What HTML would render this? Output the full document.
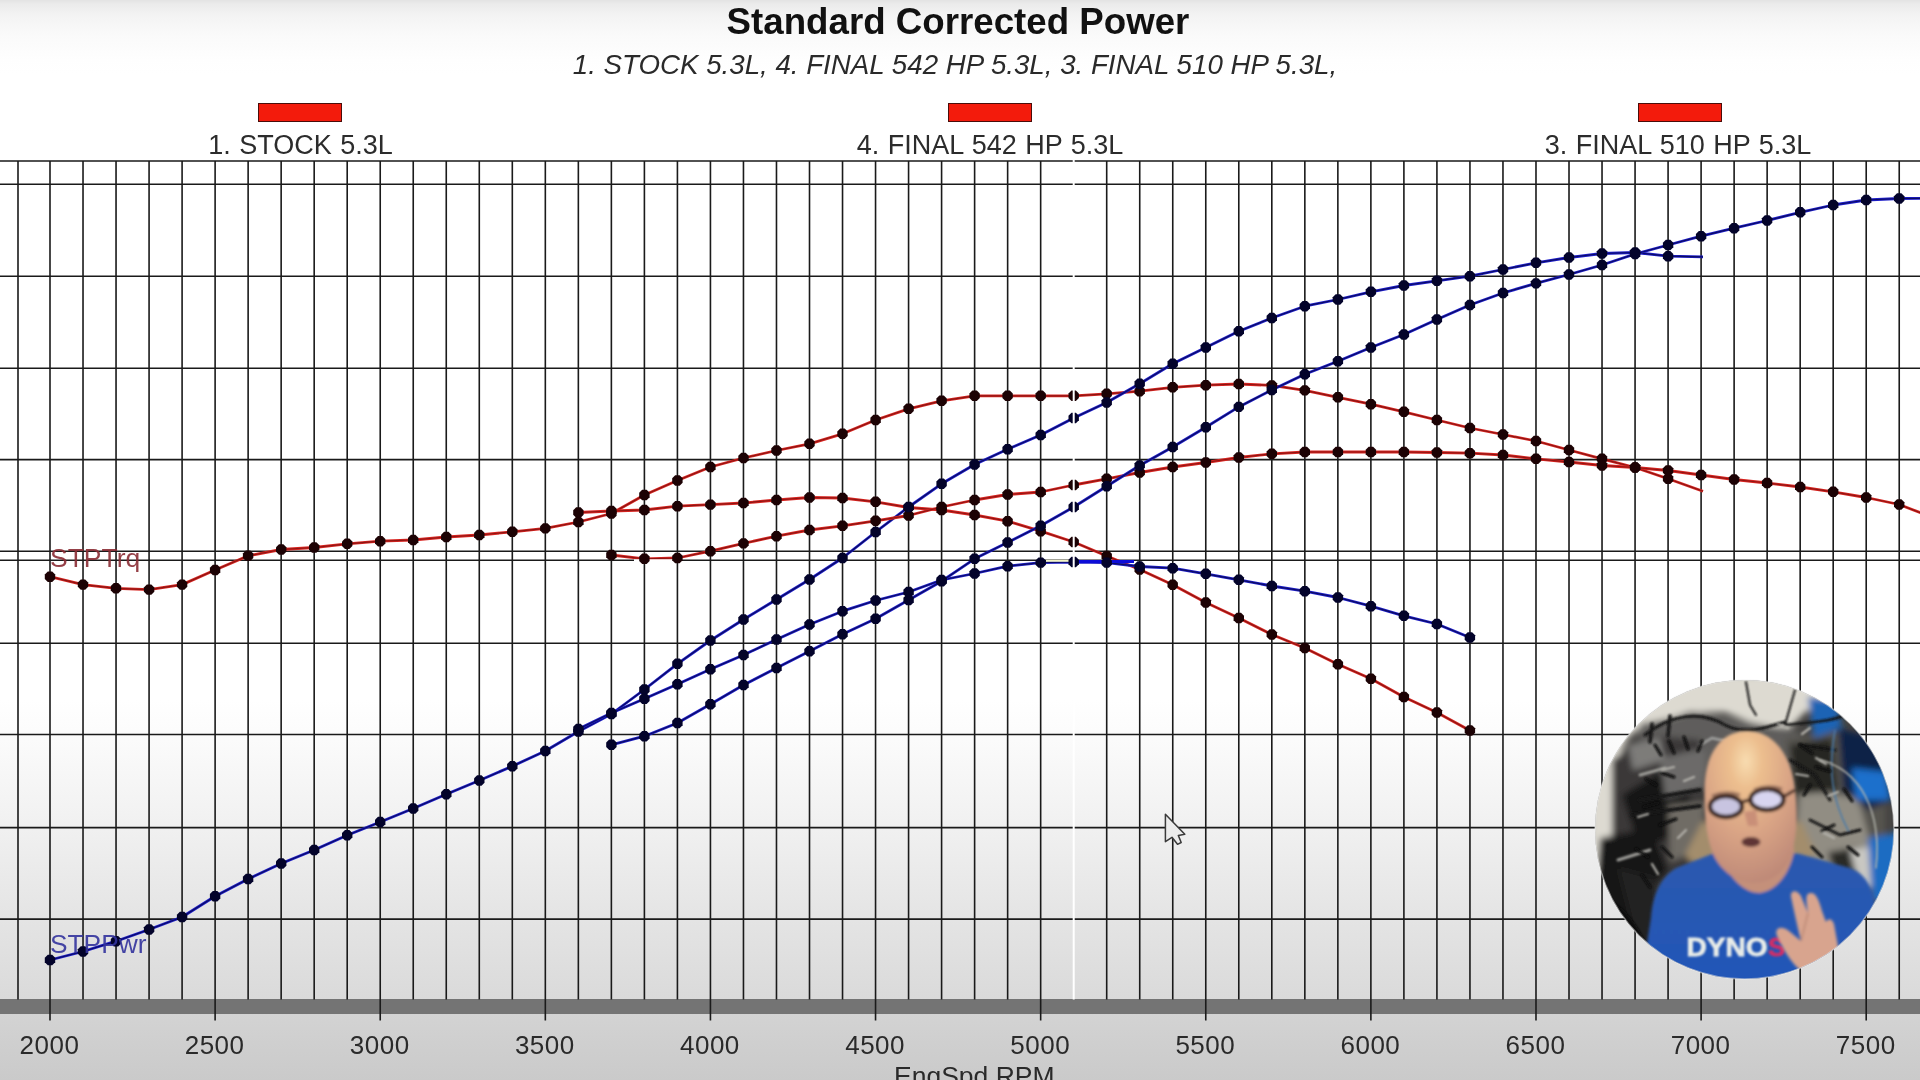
<!DOCTYPE html>
<html><head><meta charset="utf-8"><title>Standard Corrected Power</title>
<style>
html,body{margin:0;padding:0;}
body{width:1920px;height:1080px;overflow:hidden;position:relative;background:#fff;font-family:"Liberation Sans",sans-serif;color:#151515;}
#bg{position:absolute;left:0;top:0;width:1920px;height:1080px;
 background:linear-gradient(to bottom,#e3e3e3 0px,#ebebeb 4px,#f3f3f3 15px,#fafafa 35px,#fefefe 60px,#ffffff 75px,#ffffff 700px,#fbfbfb 740px,#f0f0f0 830px,#e4e4e4 920px,#dadada 999px,#d3d3d3 1014px,#cacaca 1080px);}
#band{position:absolute;left:0;top:999px;width:1920px;height:15px;background:#747474;}
svg{position:absolute;left:0;top:0;}
#wrap{position:absolute;left:0;top:0;width:1920px;height:1080px;filter:blur(0.45px);}
.t{position:absolute;white-space:nowrap;line-height:1;}
#title{left:0;width:1916px;text-align:center;top:4.4px;font-size:36.7px;font-weight:bold;color:#111;}
#sub{left:0;width:1910px;text-align:center;top:50.5px;font-size:27.7px;font-style:italic;color:#2a2a2a;}
.leg{font-size:27px;word-spacing:1px;top:132px;width:400px;text-align:center;color:#2c2c2c;}
.sw{position:absolute;top:102.5px;width:82px;height:17px;background:#f31b0c;border:1px solid #4a0d0a;box-sizing:content-box;}
.ax{font-size:26px;letter-spacing:0.5px;top:1032px;width:120px;text-align:center;color:#2a2a2a;}
</style></head><body>
<div id="bg"></div>
<div id="band"></div>
<div id="wrap">
<div class="t" id="title">Standard Corrected Power</div>
<div class="t" id="sub">1. STOCK 5.3L, 4. FINAL 542 HP 5.3L, 3. FINAL 510 HP 5.3L,</div>
<div class="sw" style="left:258px"></div>
<div class="sw" style="left:948px"></div>
<div class="sw" style="left:1638px"></div>
<div class="t leg" style="left:100.5px">1. STOCK 5.3L</div>
<div class="t leg" style="left:790px">4. FINAL 542 HP 5.3L</div>
<div class="t leg" style="left:1478px">3. FINAL 510 HP 5.3L</div>
<svg width="1920" height="1080" viewBox="0 0 1920 1080">
<defs>
<path id="d" d="M-2.2 -5.2H2.2L5.2 -2.2V2.2L2.2 5.2H-2.2L-5.2 2.2V-2.2Z"/>
</defs>
<path d="M18.00 161V999.5M50.00 161V1020.5M83.02 161V999.5M116.04 161V999.5M149.07 161V999.5M182.09 161V999.5M215.11 161V1020.5M248.13 161V999.5M281.15 161V999.5M314.18 161V999.5M347.20 161V999.5M380.22 161V1020.5M413.24 161V999.5M446.26 161V999.5M479.29 161V999.5M512.31 161V999.5M545.33 161V1020.5M578.35 161V999.5M611.37 161V999.5M644.40 161V999.5M677.42 161V999.5M710.44 161V1020.5M743.46 161V999.5M776.48 161V999.5M809.51 161V999.5M842.53 161V999.5M875.55 161V1020.5M908.57 161V999.5M941.59 161V999.5M974.62 161V999.5M1007.64 161V999.5M1040.66 161V1020.5M1106.70 161V999.5M1139.73 161V999.5M1172.75 161V999.5M1205.77 161V1020.5M1238.79 161V999.5M1271.81 161V999.5M1304.84 161V999.5M1337.86 161V999.5M1370.88 161V1020.5M1403.90 161V999.5M1436.92 161V999.5M1469.95 161V999.5M1502.97 161V999.5M1535.99 161V1020.5M1569.01 161V999.5M1602.03 161V999.5M1635.06 161V999.5M1668.08 161V999.5M1701.10 161V1020.5M1734.12 161V999.5M1767.14 161V999.5M1800.17 161V999.5M1833.19 161V999.5M1866.21 161V1020.5M1899.23 161V999.5M0 184.3H1920M0 276.2H1920M0 368.3H1920M0 459.6H1920M0 551.2H1920M0 560.3H1920M0 643.3H1920M0 734.5H1920M0 827.6H1920M0 919.1H1920M0 161H1920" stroke="#1a1a1a" stroke-width="1.6" fill="none"/>
<polyline points="50.0,576.7 83.0,584.6 116.0,588.3 149.1,589.6 182.1,584.6 215.1,570.0 248.1,555.8 281.2,549.5 314.2,547.5 347.2,543.8 380.2,541.2 413.2,540.0 446.3,537.0 479.3,535.0 512.3,531.8 545.3,528.4 578.4,522.0 611.4,513.5 644.4,495.0 677.4,480.5 710.4,467.0 743.5,458.0 776.5,450.5 809.5,443.8 842.5,433.8 875.6,420.0 908.6,408.8 941.6,400.8 974.6,395.8 1007.6,395.8 1040.7,395.8 1073.7,395.8 1106.7,393.8 1139.7,391.2 1172.7,387.3 1205.8,385.2 1238.8,384.0 1271.8,385.4 1304.8,390.4 1337.9,397.3 1370.9,404.2 1403.9,411.8 1436.9,420.0 1469.9,428.0 1503.0,434.5 1536.0,441.0 1569.0,450.0 1602.0,458.8 1635.1,467.5 1668.1,478.8 1703.0,491.2" fill="none" stroke="#d82420" stroke-width="2.8" stroke-linejoin="round"/>
<polyline points="50.0,576.7 83.0,584.6 116.0,588.3 149.1,589.6 182.1,584.6 215.1,570.0 248.1,555.8 281.2,549.5 314.2,547.5 347.2,543.8 380.2,541.2 413.2,540.0 446.3,537.0 479.3,535.0 512.3,531.8 545.3,528.4 578.4,522.0 611.4,513.5 644.4,495.0 677.4,480.5 710.4,467.0 743.5,458.0 776.5,450.5 809.5,443.8 842.5,433.8 875.6,420.0 908.6,408.8 941.6,400.8 974.6,395.8 1007.6,395.8 1040.7,395.8 1073.7,395.8 1106.7,393.8 1139.7,391.2 1172.7,387.3 1205.8,385.2 1238.8,384.0 1271.8,385.4 1304.8,390.4 1337.9,397.3 1370.9,404.2 1403.9,411.8 1436.9,420.0 1469.9,428.0 1503.0,434.5 1536.0,441.0 1569.0,450.0 1602.0,458.8 1635.1,467.5 1668.1,478.8 1703.0,491.2" fill="none" stroke="#300404" stroke-opacity="0.45" stroke-width="1.2" stroke-linejoin="round"/>
<polyline points="50.0,960.0 83.0,951.5 116.0,941.2 149.1,929.5 182.1,917.0 215.1,896.2 248.1,879.0 281.2,863.5 314.2,850.0 347.2,835.2 380.2,822.0 413.2,808.5 446.3,794.2 479.3,780.5 512.3,766.2 545.3,751.0 578.4,731.5 611.4,714.0 644.4,689.5 677.4,663.8 710.4,640.5 743.5,619.5 776.5,599.5 809.5,579.5 842.5,558.0 875.6,532.0 908.6,507.0 941.6,483.8 974.6,464.5 1007.6,449.2 1040.7,435.0 1073.7,418.0 1106.7,402.5 1139.7,383.8 1172.7,363.8 1205.8,347.5 1238.8,331.2 1271.8,318.0 1304.8,306.2 1337.9,299.5 1370.9,291.8 1403.9,285.5 1436.9,280.8 1469.9,276.2 1503.0,269.5 1536.0,262.8 1569.0,257.5 1602.0,253.5 1635.1,252.5 1668.1,256.2 1703.0,256.9" fill="none" stroke="#1c1cc8" stroke-width="2.8" stroke-linejoin="round"/>
<polyline points="50.0,960.0 83.0,951.5 116.0,941.2 149.1,929.5 182.1,917.0 215.1,896.2 248.1,879.0 281.2,863.5 314.2,850.0 347.2,835.2 380.2,822.0 413.2,808.5 446.3,794.2 479.3,780.5 512.3,766.2 545.3,751.0 578.4,731.5 611.4,714.0 644.4,689.5 677.4,663.8 710.4,640.5 743.5,619.5 776.5,599.5 809.5,579.5 842.5,558.0 875.6,532.0 908.6,507.0 941.6,483.8 974.6,464.5 1007.6,449.2 1040.7,435.0 1073.7,418.0 1106.7,402.5 1139.7,383.8 1172.7,363.8 1205.8,347.5 1238.8,331.2 1271.8,318.0 1304.8,306.2 1337.9,299.5 1370.9,291.8 1403.9,285.5 1436.9,280.8 1469.9,276.2 1503.0,269.5 1536.0,262.8 1569.0,257.5 1602.0,253.5 1635.1,252.5 1668.1,256.2 1703.0,256.9" fill="none" stroke="#000020" stroke-opacity="0.6" stroke-width="1.2" stroke-linejoin="round"/>
<polyline points="578.4,512.5 611.4,511.0 644.4,510.0 677.4,506.2 710.4,504.6 743.5,503.0 776.5,500.0 809.5,497.5 842.5,498.0 875.6,501.8 908.6,507.5 941.6,510.0 974.6,515.0 1007.6,521.2 1040.7,531.2 1073.7,542.0 1106.7,556.0 1139.7,569.5 1172.7,584.8 1205.8,602.5 1238.8,618.0 1271.8,634.5 1304.8,648.0 1337.9,664.2 1370.9,678.8 1403.9,697.0 1436.9,712.5 1469.9,730.5" fill="none" stroke="#d82420" stroke-width="2.8" stroke-linejoin="round"/>
<polyline points="578.4,512.5 611.4,511.0 644.4,510.0 677.4,506.2 710.4,504.6 743.5,503.0 776.5,500.0 809.5,497.5 842.5,498.0 875.6,501.8 908.6,507.5 941.6,510.0 974.6,515.0 1007.6,521.2 1040.7,531.2 1073.7,542.0 1106.7,556.0 1139.7,569.5 1172.7,584.8 1205.8,602.5 1238.8,618.0 1271.8,634.5 1304.8,648.0 1337.9,664.2 1370.9,678.8 1403.9,697.0 1436.9,712.5 1469.9,730.5" fill="none" stroke="#300404" stroke-opacity="0.45" stroke-width="1.2" stroke-linejoin="round"/>
<polyline points="578.4,729.0 611.4,713.0 644.4,698.8 677.4,684.2 710.4,669.2 743.5,655.0 776.5,639.5 809.5,624.5 842.5,611.2 875.6,600.5 908.6,592.0 941.6,580.0 974.6,573.5 1007.6,566.2 1040.7,562.6 1073.7,562.0 1106.7,562.6 1139.7,566.5 1172.7,568.2 1205.8,573.8 1238.8,579.8 1271.8,586.0 1304.8,591.2 1337.9,597.5 1370.9,606.2 1403.9,615.8 1436.9,624.0 1469.9,637.5" fill="none" stroke="#1c1cc8" stroke-width="2.8" stroke-linejoin="round"/>
<polyline points="578.4,729.0 611.4,713.0 644.4,698.8 677.4,684.2 710.4,669.2 743.5,655.0 776.5,639.5 809.5,624.5 842.5,611.2 875.6,600.5 908.6,592.0 941.6,580.0 974.6,573.5 1007.6,566.2 1040.7,562.6 1073.7,562.0 1106.7,562.6 1139.7,566.5 1172.7,568.2 1205.8,573.8 1238.8,579.8 1271.8,586.0 1304.8,591.2 1337.9,597.5 1370.9,606.2 1403.9,615.8 1436.9,624.0 1469.9,637.5" fill="none" stroke="#000020" stroke-opacity="0.6" stroke-width="1.2" stroke-linejoin="round"/>
<polyline points="611.4,555.0 644.4,558.8 677.4,558.0 710.4,551.2 743.5,543.4 776.5,536.2 809.5,530.0 842.5,525.8 875.6,520.8 908.6,515.5 941.6,507.0 974.6,500.0 1007.6,494.5 1040.7,492.0 1073.7,485.0 1106.7,478.8 1139.7,472.5 1172.7,467.0 1205.8,462.5 1238.8,457.5 1271.8,453.8 1304.8,452.0 1337.9,452.0 1370.9,452.0 1403.9,452.0 1436.9,452.5 1469.9,453.2 1503.0,455.0 1536.0,458.8 1569.0,462.0 1602.0,465.5 1635.1,467.5 1668.1,470.5 1701.1,475.0 1734.1,479.5 1767.1,483.0 1800.2,487.0 1833.2,491.8 1866.2,497.5 1899.2,504.5 1921.0,513.0" fill="none" stroke="#d82420" stroke-width="2.8" stroke-linejoin="round"/>
<polyline points="611.4,555.0 644.4,558.8 677.4,558.0 710.4,551.2 743.5,543.4 776.5,536.2 809.5,530.0 842.5,525.8 875.6,520.8 908.6,515.5 941.6,507.0 974.6,500.0 1007.6,494.5 1040.7,492.0 1073.7,485.0 1106.7,478.8 1139.7,472.5 1172.7,467.0 1205.8,462.5 1238.8,457.5 1271.8,453.8 1304.8,452.0 1337.9,452.0 1370.9,452.0 1403.9,452.0 1436.9,452.5 1469.9,453.2 1503.0,455.0 1536.0,458.8 1569.0,462.0 1602.0,465.5 1635.1,467.5 1668.1,470.5 1701.1,475.0 1734.1,479.5 1767.1,483.0 1800.2,487.0 1833.2,491.8 1866.2,497.5 1899.2,504.5 1921.0,513.0" fill="none" stroke="#300404" stroke-opacity="0.45" stroke-width="1.2" stroke-linejoin="round"/>
<polyline points="611.4,744.8 644.4,736.2 677.4,723.0 710.4,704.2 743.5,685.0 776.5,668.0 809.5,651.2 842.5,634.2 875.6,618.8 908.6,600.0 941.6,581.2 974.6,558.8 1007.6,542.5 1040.7,525.8 1073.7,507.0 1106.7,486.2 1139.7,465.5 1172.7,447.0 1205.8,427.2 1238.8,406.9 1271.8,390.0 1304.8,374.2 1337.9,361.2 1370.9,347.5 1403.9,334.5 1436.9,319.5 1469.9,305.0 1503.0,293.0 1536.0,283.4 1569.0,274.5 1602.0,265.0 1635.1,254.0 1668.1,245.0 1701.1,236.2 1734.1,228.2 1767.1,220.5 1800.2,212.3 1833.2,205.0 1866.2,200.0 1899.2,198.5 1921.0,198.3" fill="none" stroke="#1c1cc8" stroke-width="2.8" stroke-linejoin="round"/>
<polyline points="611.4,744.8 644.4,736.2 677.4,723.0 710.4,704.2 743.5,685.0 776.5,668.0 809.5,651.2 842.5,634.2 875.6,618.8 908.6,600.0 941.6,581.2 974.6,558.8 1007.6,542.5 1040.7,525.8 1073.7,507.0 1106.7,486.2 1139.7,465.5 1172.7,447.0 1205.8,427.2 1238.8,406.9 1271.8,390.0 1304.8,374.2 1337.9,361.2 1370.9,347.5 1403.9,334.5 1436.9,319.5 1469.9,305.0 1503.0,293.0 1536.0,283.4 1569.0,274.5 1602.0,265.0 1635.1,254.0 1668.1,245.0 1701.1,236.2 1734.1,228.2 1767.1,220.5 1800.2,212.3 1833.2,205.0 1866.2,200.0 1899.2,198.5 1921.0,198.3" fill="none" stroke="#000020" stroke-opacity="0.6" stroke-width="1.2" stroke-linejoin="round"/>
<path d="M634 560.3H679" stroke="#ffffff" stroke-width="2"/>
<path d="M1046 560.8H1071" stroke="#f3f5c4" stroke-width="2"/>
<path d="M1077 561.6H1134" stroke="#0c0cd8" stroke-width="3"/>
<g fill="#1c0204"><use href="#d" x="50.0" y="576.7"/><use href="#d" x="83.0" y="584.6"/><use href="#d" x="116.0" y="588.3"/><use href="#d" x="149.1" y="589.6"/><use href="#d" x="182.1" y="584.6"/><use href="#d" x="215.1" y="570.0"/><use href="#d" x="248.1" y="555.8"/><use href="#d" x="281.2" y="549.5"/><use href="#d" x="314.2" y="547.5"/><use href="#d" x="347.2" y="543.8"/><use href="#d" x="380.2" y="541.2"/><use href="#d" x="413.2" y="540.0"/><use href="#d" x="446.3" y="537.0"/><use href="#d" x="479.3" y="535.0"/><use href="#d" x="512.3" y="531.8"/><use href="#d" x="545.3" y="528.4"/><use href="#d" x="578.4" y="522.0"/><use href="#d" x="611.4" y="513.5"/><use href="#d" x="644.4" y="495.0"/><use href="#d" x="677.4" y="480.5"/><use href="#d" x="710.4" y="467.0"/><use href="#d" x="743.5" y="458.0"/><use href="#d" x="776.5" y="450.5"/><use href="#d" x="809.5" y="443.8"/><use href="#d" x="842.5" y="433.8"/><use href="#d" x="875.6" y="420.0"/><use href="#d" x="908.6" y="408.8"/><use href="#d" x="941.6" y="400.8"/><use href="#d" x="974.6" y="395.8"/><use href="#d" x="1007.6" y="395.8"/><use href="#d" x="1040.7" y="395.8"/><use href="#d" x="1073.7" y="395.8"/><use href="#d" x="1106.7" y="393.8"/><use href="#d" x="1139.7" y="391.2"/><use href="#d" x="1172.7" y="387.3"/><use href="#d" x="1205.8" y="385.2"/><use href="#d" x="1238.8" y="384.0"/><use href="#d" x="1271.8" y="385.4"/><use href="#d" x="1304.8" y="390.4"/><use href="#d" x="1337.9" y="397.3"/><use href="#d" x="1370.9" y="404.2"/><use href="#d" x="1403.9" y="411.8"/><use href="#d" x="1436.9" y="420.0"/><use href="#d" x="1469.9" y="428.0"/><use href="#d" x="1503.0" y="434.5"/><use href="#d" x="1536.0" y="441.0"/><use href="#d" x="1569.0" y="450.0"/><use href="#d" x="1602.0" y="458.8"/><use href="#d" x="1635.1" y="467.5"/><use href="#d" x="1668.1" y="478.8"/><use href="#d" x="578.4" y="512.5"/><use href="#d" x="611.4" y="511.0"/><use href="#d" x="644.4" y="510.0"/><use href="#d" x="677.4" y="506.2"/><use href="#d" x="710.4" y="504.6"/><use href="#d" x="743.5" y="503.0"/><use href="#d" x="776.5" y="500.0"/><use href="#d" x="809.5" y="497.5"/><use href="#d" x="842.5" y="498.0"/><use href="#d" x="875.6" y="501.8"/><use href="#d" x="908.6" y="507.5"/><use href="#d" x="941.6" y="510.0"/><use href="#d" x="974.6" y="515.0"/><use href="#d" x="1007.6" y="521.2"/><use href="#d" x="1040.7" y="531.2"/><use href="#d" x="1073.7" y="542.0"/><use href="#d" x="1106.7" y="556.0"/><use href="#d" x="1139.7" y="569.5"/><use href="#d" x="1172.7" y="584.8"/><use href="#d" x="1205.8" y="602.5"/><use href="#d" x="1238.8" y="618.0"/><use href="#d" x="1271.8" y="634.5"/><use href="#d" x="1304.8" y="648.0"/><use href="#d" x="1337.9" y="664.2"/><use href="#d" x="1370.9" y="678.8"/><use href="#d" x="1403.9" y="697.0"/><use href="#d" x="1436.9" y="712.5"/><use href="#d" x="1469.9" y="730.5"/><use href="#d" x="611.4" y="555.0"/><use href="#d" x="644.4" y="558.8"/><use href="#d" x="677.4" y="558.0"/><use href="#d" x="710.4" y="551.2"/><use href="#d" x="743.5" y="543.4"/><use href="#d" x="776.5" y="536.2"/><use href="#d" x="809.5" y="530.0"/><use href="#d" x="842.5" y="525.8"/><use href="#d" x="875.6" y="520.8"/><use href="#d" x="908.6" y="515.5"/><use href="#d" x="941.6" y="507.0"/><use href="#d" x="974.6" y="500.0"/><use href="#d" x="1007.6" y="494.5"/><use href="#d" x="1040.7" y="492.0"/><use href="#d" x="1073.7" y="485.0"/><use href="#d" x="1106.7" y="478.8"/><use href="#d" x="1139.7" y="472.5"/><use href="#d" x="1172.7" y="467.0"/><use href="#d" x="1205.8" y="462.5"/><use href="#d" x="1238.8" y="457.5"/><use href="#d" x="1271.8" y="453.8"/><use href="#d" x="1304.8" y="452.0"/><use href="#d" x="1337.9" y="452.0"/><use href="#d" x="1370.9" y="452.0"/><use href="#d" x="1403.9" y="452.0"/><use href="#d" x="1436.9" y="452.5"/><use href="#d" x="1469.9" y="453.2"/><use href="#d" x="1503.0" y="455.0"/><use href="#d" x="1536.0" y="458.8"/><use href="#d" x="1569.0" y="462.0"/><use href="#d" x="1602.0" y="465.5"/><use href="#d" x="1635.1" y="467.5"/><use href="#d" x="1668.1" y="470.5"/><use href="#d" x="1701.1" y="475.0"/><use href="#d" x="1734.1" y="479.5"/><use href="#d" x="1767.1" y="483.0"/><use href="#d" x="1800.2" y="487.0"/><use href="#d" x="1833.2" y="491.8"/><use href="#d" x="1866.2" y="497.5"/><use href="#d" x="1899.2" y="504.5"/></g>
<g fill="#03032a"><use href="#d" x="50.0" y="960.0"/><use href="#d" x="83.0" y="951.5"/><use href="#d" x="116.0" y="941.2"/><use href="#d" x="149.1" y="929.5"/><use href="#d" x="182.1" y="917.0"/><use href="#d" x="215.1" y="896.2"/><use href="#d" x="248.1" y="879.0"/><use href="#d" x="281.2" y="863.5"/><use href="#d" x="314.2" y="850.0"/><use href="#d" x="347.2" y="835.2"/><use href="#d" x="380.2" y="822.0"/><use href="#d" x="413.2" y="808.5"/><use href="#d" x="446.3" y="794.2"/><use href="#d" x="479.3" y="780.5"/><use href="#d" x="512.3" y="766.2"/><use href="#d" x="545.3" y="751.0"/><use href="#d" x="578.4" y="731.5"/><use href="#d" x="611.4" y="714.0"/><use href="#d" x="644.4" y="689.5"/><use href="#d" x="677.4" y="663.8"/><use href="#d" x="710.4" y="640.5"/><use href="#d" x="743.5" y="619.5"/><use href="#d" x="776.5" y="599.5"/><use href="#d" x="809.5" y="579.5"/><use href="#d" x="842.5" y="558.0"/><use href="#d" x="875.6" y="532.0"/><use href="#d" x="908.6" y="507.0"/><use href="#d" x="941.6" y="483.8"/><use href="#d" x="974.6" y="464.5"/><use href="#d" x="1007.6" y="449.2"/><use href="#d" x="1040.7" y="435.0"/><use href="#d" x="1073.7" y="418.0"/><use href="#d" x="1106.7" y="402.5"/><use href="#d" x="1139.7" y="383.8"/><use href="#d" x="1172.7" y="363.8"/><use href="#d" x="1205.8" y="347.5"/><use href="#d" x="1238.8" y="331.2"/><use href="#d" x="1271.8" y="318.0"/><use href="#d" x="1304.8" y="306.2"/><use href="#d" x="1337.9" y="299.5"/><use href="#d" x="1370.9" y="291.8"/><use href="#d" x="1403.9" y="285.5"/><use href="#d" x="1436.9" y="280.8"/><use href="#d" x="1469.9" y="276.2"/><use href="#d" x="1503.0" y="269.5"/><use href="#d" x="1536.0" y="262.8"/><use href="#d" x="1569.0" y="257.5"/><use href="#d" x="1602.0" y="253.5"/><use href="#d" x="1635.1" y="252.5"/><use href="#d" x="1668.1" y="256.2"/><use href="#d" x="578.4" y="729.0"/><use href="#d" x="611.4" y="713.0"/><use href="#d" x="644.4" y="698.8"/><use href="#d" x="677.4" y="684.2"/><use href="#d" x="710.4" y="669.2"/><use href="#d" x="743.5" y="655.0"/><use href="#d" x="776.5" y="639.5"/><use href="#d" x="809.5" y="624.5"/><use href="#d" x="842.5" y="611.2"/><use href="#d" x="875.6" y="600.5"/><use href="#d" x="908.6" y="592.0"/><use href="#d" x="941.6" y="580.0"/><use href="#d" x="974.6" y="573.5"/><use href="#d" x="1007.6" y="566.2"/><use href="#d" x="1040.7" y="562.6"/><use href="#d" x="1073.7" y="562.0"/><use href="#d" x="1106.7" y="562.6"/><use href="#d" x="1139.7" y="566.5"/><use href="#d" x="1172.7" y="568.2"/><use href="#d" x="1205.8" y="573.8"/><use href="#d" x="1238.8" y="579.8"/><use href="#d" x="1271.8" y="586.0"/><use href="#d" x="1304.8" y="591.2"/><use href="#d" x="1337.9" y="597.5"/><use href="#d" x="1370.9" y="606.2"/><use href="#d" x="1403.9" y="615.8"/><use href="#d" x="1436.9" y="624.0"/><use href="#d" x="1469.9" y="637.5"/><use href="#d" x="611.4" y="744.8"/><use href="#d" x="644.4" y="736.2"/><use href="#d" x="677.4" y="723.0"/><use href="#d" x="710.4" y="704.2"/><use href="#d" x="743.5" y="685.0"/><use href="#d" x="776.5" y="668.0"/><use href="#d" x="809.5" y="651.2"/><use href="#d" x="842.5" y="634.2"/><use href="#d" x="875.6" y="618.8"/><use href="#d" x="908.6" y="600.0"/><use href="#d" x="941.6" y="581.2"/><use href="#d" x="974.6" y="558.8"/><use href="#d" x="1007.6" y="542.5"/><use href="#d" x="1040.7" y="525.8"/><use href="#d" x="1073.7" y="507.0"/><use href="#d" x="1106.7" y="486.2"/><use href="#d" x="1139.7" y="465.5"/><use href="#d" x="1172.7" y="447.0"/><use href="#d" x="1205.8" y="427.2"/><use href="#d" x="1238.8" y="406.9"/><use href="#d" x="1271.8" y="390.0"/><use href="#d" x="1304.8" y="374.2"/><use href="#d" x="1337.9" y="361.2"/><use href="#d" x="1370.9" y="347.5"/><use href="#d" x="1403.9" y="334.5"/><use href="#d" x="1436.9" y="319.5"/><use href="#d" x="1469.9" y="305.0"/><use href="#d" x="1503.0" y="293.0"/><use href="#d" x="1536.0" y="283.4"/><use href="#d" x="1569.0" y="274.5"/><use href="#d" x="1602.0" y="265.0"/><use href="#d" x="1635.1" y="254.0"/><use href="#d" x="1668.1" y="245.0"/><use href="#d" x="1701.1" y="236.2"/><use href="#d" x="1734.1" y="228.2"/><use href="#d" x="1767.1" y="220.5"/><use href="#d" x="1800.2" y="212.3"/><use href="#d" x="1833.2" y="205.0"/><use href="#d" x="1866.2" y="200.0"/><use href="#d" x="1899.2" y="198.5"/></g>
<path d="M1073.7 160V999.5" stroke="#ffffff" stroke-width="2"/>
<text x="50" y="567" font-family="Liberation Sans, sans-serif" font-size="26.5" fill="#8a2c34" opacity="0.9">STPTrq</text>
<text x="50" y="952.5" font-family="Liberation Sans, sans-serif" font-size="26.3" fill="#34349e" opacity="0.9">STPPwr</text>
<!--CURSOR-->
<path d="M1165.4 814.2V841.7L1172 837.3L1177.5 844.3L1181.2 842.5L1178.3 835.4L1184.8 834.3Z" fill="#ececec" stroke="#3a3a3a" stroke-width="1.5" stroke-linejoin="round"/>
<defs>
<clipPath id="cc"><circle cx="1744.5" cy="829.5" r="149.5"/></clipPath>
<filter id="b1" x="-20%" y="-20%" width="140%" height="140%"><feGaussianBlur stdDeviation="1.4"/></filter>
<filter id="b2" x="-20%" y="-20%" width="140%" height="140%"><feGaussianBlur stdDeviation="3"/></filter>
<filter id="b3" x="-5%" y="-5%" width="110%" height="110%"><feGaussianBlur stdDeviation="0.8"/></filter>
<filter id="b4" x="-20%" y="-20%" width="140%" height="140%"><feGaussianBlur stdDeviation="1.1"/></filter>
<radialGradient id="hd" cx="0.45" cy="0.2" r="0.8"><stop offset="0" stop-color="#f8dcb0"/><stop offset="0.22" stop-color="#ecbe8e"/><stop offset="0.6" stop-color="#d9a485"/><stop offset="1" stop-color="#bf8a78"/></radialGradient>
<linearGradient id="sh" x1="0" y1="0" x2="0" y2="1"><stop offset="0" stop-color="#2b59ae"/><stop offset="1" stop-color="#2156b8"/></linearGradient>
</defs>
<g clip-path="url(#cc)">
<rect x="1590" y="675" width="310" height="310" fill="#464442"/>
<g filter="url(#b2)">
<!-- wall -->
<path d="M1590 675H1900V712L1860 705L1835 700L1805 712L1790 728L1760 726L1725 712L1690 712L1665 720L1645 724L1628 738L1615 765L1612 830L1615 900L1590 900Z" fill="#dddad1"/>
<!-- engine greys -->
<path d="M1640 724L1700 712L1760 724L1800 732L1800 800L1640 800Z" fill="#5e5d5b"/>
<path d="M1612 760L1650 735L1700 740L1710 800L1700 860L1660 900L1612 880Z" fill="#3a3938"/>
<path d="M1622 795L1660 772L1692 790L1682 832L1640 850Z" fill="#161616"/>
<path d="M1600 838L1652 828L1668 870L1642 900L1652 955L1620 955L1595 900Z" fill="#171616"/>
<path d="M1660 758L1705 748L1705 788L1665 798Z" fill="#6c6b69"/>
<path d="M1628 745L1660 737L1665 760L1633 770Z" fill="#7d7c79"/>
<path d="M1668 805L1705 802L1700 850L1670 862Z" fill="#6f6c65"/>
<path d="M1618 868L1655 878L1662 945L1640 955Z" fill="#242322"/>
<!-- right side engine -->
<path d="M1785 738L1850 730L1885 800L1885 905L1800 880Z" fill="#56544f"/>
<path d="M1800 790L1858 798L1872 850L1822 872L1795 850Z" fill="#918d83"/>
<path d="M1790 745L1832 738L1838 790L1795 795Z" fill="#262524"/>
<path d="M1828 852L1872 845L1872 892L1842 902Z" fill="#2a2927"/>
<path d="M1850 850L1895 840L1895 880L1860 890Z" fill="#c9c8c2"/>
<!-- blue on right -->
<path d="M1808 697L1836 700L1842 728L1814 738Z" fill="#1f63b4"/>
<path d="M1838 728L1878 738L1893 800L1868 810L1843 790Z" fill="#0f2447"/>
<path d="M1852 768L1886 772L1890 800L1856 800Z" fill="#1c70cc"/>
<path d="M1868 838L1900 832L1900 905L1872 900Z" fill="#1f6cc2"/>
<!-- tan chair -->
<path d="M1685 855L1702 822L1802 822L1815 852L1800 872L1700 872Z" fill="#a38d6c"/>
</g>
<!-- hoses / texture -->
<g filter="url(#b4)" fill="none" stroke="#161616" stroke-width="3" stroke-linecap="round">
<path d="M1645 735C1670 715 1700 710 1725 725C1745 735 1765 728 1785 722"/>
<path d="M1746 682L1750 705L1756 715" stroke-width="2"/>
<path d="M1795 690L1785 725" stroke-width="2"/>
<path d="M1785 725C1810 722 1830 722 1845 715" stroke-width="2.5"/>
<path d="M1640 800L1700 790M1632 815L1700 806" stroke-width="4"/>
<path d="M1650 742L1652 724M1668 736L1670 716" stroke-width="3.5"/>
<path d="M1700 745L1712 738L1730 742" stroke="#9a9a98" stroke-width="3"/>
<path d="M1640 775L1665 768M1618 860L1650 850" stroke="#9d9c98" stroke-width="3"/>
<path d="M1790 760L1815 775L1830 800M1800 745L1835 750" stroke-width="3"/>
<path d="M1810 820L1840 835L1860 830" stroke-width="3"/>
<path d="M1835 730C1828 770 1832 800 1848 830" stroke="#4a7aa8" stroke-width="1.5"/>
<path d="M1820 760C1860 770 1882 810 1876 868" stroke="#b8b8b0" stroke-width="1.5"/>
<path d="M1610 905C1625 915 1640 935 1645 955" stroke="#0d0d0d" stroke-width="9"/>
</g>
<g filter="url(#b4)" fill="none" stroke-linecap="round">
<path d="M1655 745l6 10m8 -14l5 12m10 -16l4 12m14 -8l-4 10m-52 28l10 6m6 -12l12 4m-30 30l14 -4m2 22l16 -6m-40 30l12 8m14 -10l10 10m-30 18l8 12" stroke="#0e0e0e" stroke-width="3"/>
<path d="M1662 770l12 -3m10 14l10 -4m-56 40l10 -3m30 24l8 -8m-34 34l6 10m120 -150l10 4m14 6l8 -6m6 30l10 6m-30 10l12 2m20 20l10 -4m-16 40l12 6" stroke="#b4b2ac" stroke-width="2.2"/>
<path d="M1800 745l12 8m4 14l14 4m-20 14l-6 10m40 -6l8 12m-30 30l12 -6m14 22l10 8m-46 -8l10 10" stroke="#101010" stroke-width="3"/>
</g>
<!-- shirt, head -->
<g filter="url(#b1)">
<path d="M1640 990L1651 917C1653 895 1660 878 1676 868L1722 850L1770 850L1800 854L1850 868C1868 875 1874 890 1876 915L1885 990Z" fill="url(#sh)"/>
<path d="M1720 845L1722 858C1730 880 1745 893 1760 893C1775 891 1789 876 1794 852L1793 830L1720 830Z" fill="#c4907a"/>
<path d="M1747 731C1722 731 1705 752 1704.5 790C1704 818 1707 840 1714 856C1722 872 1738 883 1754 883C1770 883 1783 874 1790 858C1797 840 1798 815 1795 790C1791 752 1772 731 1747 731Z" fill="url(#hd)"/>
<ellipse cx="1751" cy="842" rx="9.5" ry="5" fill="#5e3636"/>
<path d="M1744 812L1748 826L1758 826L1756 810Z" fill="#c98f78"/>
<!-- glasses -->
<ellipse cx="1726" cy="806.5" rx="16" ry="10.5" fill="#c8c4e0" stroke="#34201a" stroke-width="4.4"/>
<ellipse cx="1767" cy="799.5" rx="16.5" ry="10.5" fill="#d8d5f0" stroke="#34201a" stroke-width="4.4"/>
<path d="M1741 803Q1747 799 1752 801" stroke="#3c241c" stroke-width="3.2" fill="none"/>
<path d="M1783 797L1795 790" stroke="#3c241c" stroke-width="3" fill="none"/>
<path d="M1712 796Q1726 790 1740 795M1754 790Q1768 784 1782 789" stroke="#7a5648" stroke-width="3" fill="none" opacity="0.7"/>
</g>
<g filter="url(#b3)">
<text x="1686.5" y="955.8" font-family="Liberation Sans, sans-serif" font-weight="bold" font-size="26" textLength="81" lengthAdjust="spacingAndGlyphs" fill="#e8ece8" stroke="#e8ece8" stroke-width="0.8">DYNO</text>
<text x="1768" y="955.8" font-family="Liberation Sans, sans-serif" font-weight="bold" font-size="26" fill="#cf2f68" stroke="#cf2f68" stroke-width="0.8">S</text>
</g>
<g filter="url(#b1)">
<!-- hand -->
<path d="M1777 936C1774 928 1781 925 1789 931L1801 941C1797 925 1793 906 1791 897C1790 890 1797 889 1801 896L1808 913C1806 900 1805 894 1810 893C1816 892 1819 900 1822 911L1826 922C1828 918 1832 918 1834 924L1838 946C1840 958 1836 966 1826 969L1806 974C1795 969 1785 953 1777 936Z" fill="#d8a48e"/>
<path d="M1801 941L1808 913" stroke="#b98674" stroke-width="1.5" fill="none"/>
</g>
</g>
<circle cx="1744.5" cy="829.5" r="149.5" fill="none" stroke="#f0f0f0" stroke-opacity="0.5" stroke-width="1.5"/>

</svg>
<div class="t ax" style="left:-10.5px">2000</div><div class="t ax" style="left:154.6px">2500</div><div class="t ax" style="left:319.7px">3000</div><div class="t ax" style="left:484.8px">3500</div><div class="t ax" style="left:649.9px">4000</div><div class="t ax" style="left:815.1px">4500</div><div class="t ax" style="left:980.2px">5000</div><div class="t ax" style="left:1145.3px">5500</div><div class="t ax" style="left:1310.4px">6000</div><div class="t ax" style="left:1475.5px">6500</div><div class="t ax" style="left:1640.6px">7000</div><div class="t ax" style="left:1805.7px">7500</div>
<div class="t" style="left:894px;top:1063px;font-size:26.5px;color:#2a2a2a;">EngSpd RPM</div>
</div>
</body></html>
